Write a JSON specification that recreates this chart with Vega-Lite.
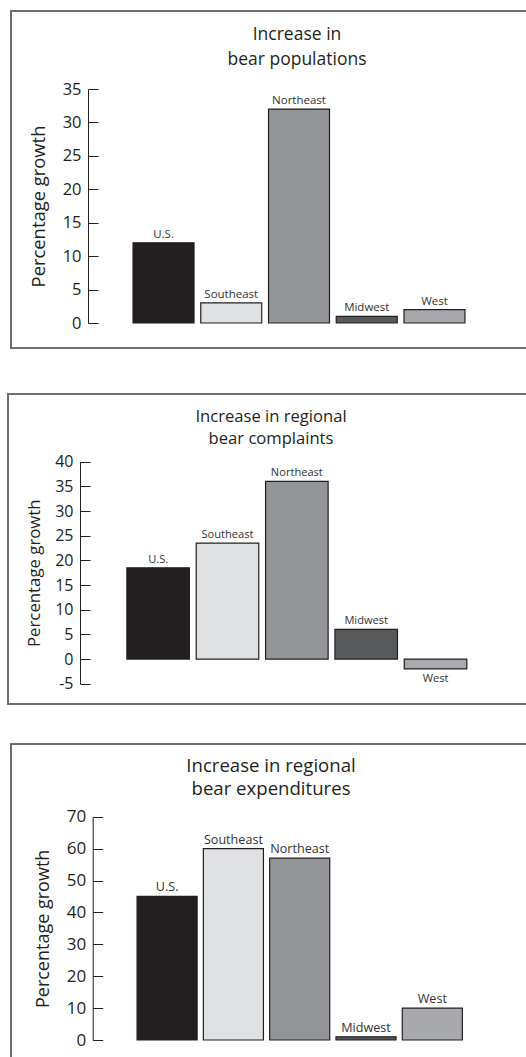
{
  "$schema": "https://vega.github.io/schema/vega-lite/v6.json",
  "padding": {"left": 7, "top": 10, "right": 0, "bottom": 0},
  "background": "white",
  "config": {
    "font": "Open Sans",
    "view": {"stroke": "#6d6e71", "strokeWidth": 2},
    "title": {"font": "Open Sans", "fontWeight": "normal", "color": "#231f20"},
    "axis": {
      "domainColor": "#231f20", "domainWidth": 1, "tickColor": "#231f20", "tickWidth": 1,
      "labelFont": "Open Sans", "labelColor": "#231f20", "titleFont": "Open Sans",
      "titleFontWeight": "normal", "titleColor": "#231f20", "grid": false
    },
    "text": {"font": "Open Sans", "color": "#333333"}
  },
  "vconcat": [
    {
      "width": 520, "height": 337,
      "title": {"text": ["Increase in", "bear populations"], "frame": "group", "anchor": "middle", "offset": -71, "baseline": "alphabetic", "fontSize": 17.5, "lineHeight": 25, "dx": 26},
      "data": {"values": [
        {"region": "U.S.", "value": 12},
        {"region": "Southeast", "value": 3},
        {"region": "Northeast", "value": 32},
        {"region": "Midwest", "value": 1},
        {"region": "West", "value": 2}
      ]},
      "encoding": {
        "x": {"field": "region", "type": "nominal", "sort": null, "axis": null,
              "scale": {"type": "band", "domain": ["U.S.", "Southeast", "Northeast", "Midwest", "West"], "range": [77, 499], "paddingInner": 0.1, "paddingOuter": 0.665}},
        "y": {"field": "value", "type": "quantitative",
              "scale": {"domain": [0, 35], "range": [312, 78], "nice": false},
              "axis": {"values": [0, 5, 10, 15, 20, 25, 30, 35], "offset": -77, "tickSize": -10, "labelPadding": 17, "labelFontSize": 16.5, "labelExpr": "'' + datum.value", "title": "Percentage growth", "titleFontSize": 18.4, "titlePadding": 14}}
      },
      "layer": [
        {"mark": {"type": "bar", "stroke": "#231f20", "strokeWidth": 1.2},
         "encoding": {"color": {"field": "region", "type": "nominal", "legend": null,
           "scale": {"domain": ["U.S.", "Southeast", "Northeast", "Midwest", "West"], "range": ["#231f20", "#e0e1e3", "#939598", "#58595b", "#a7a9ac"]}}}},
        {"transform": [{"filter": "datum.value >= 0"}],
         "mark": {"type": "text", "baseline": "alphabetic", "dy": -5, "fontSize": 11.5},
         "encoding": {"text": {"field": "region"}}},
        {"data": {"values": [{"level": 0}]},
         "mark": {"type": "rule", "color": "#58595b", "strokeWidth": 2},
         "encoding": {"x": {"datum": 0, "type": "quantitative", "scale": {"domain": [0, 1], "range": [77, 499]}, "axis": null},
                      "x2": {"datum": 1},
                      "y": {"field": "level", "type": "quantitative"}}},
        {"data": {"values": [{"level": 0}]},
         "mark": {"type": "tick", "orient": "vertical", "size": 6, "thickness": 1, "yOffset": -3, "color": "#231f20"},
         "encoding": {"x": {"datum": 1, "type": "quantitative", "scale": {"domain": [0, 1], "range": [77, 499]}, "axis": null},
                      "y": {"field": "level", "type": "quantitative"}}}
      ],
      "resolve": {"scale": {"x": "independent"}}
    },
    {
      "spacing": 38,
      "center": true,
      "vconcat": [
        {
          "width": 526, "height": 310,
          "title": {"text": ["Increase in regional", "bear complaints"], "frame": "group", "anchor": "middle", "offset": -67, "baseline": "alphabetic", "fontSize": 16.6, "lineHeight": 22},
          "data": {"values": [
            {"region": "U.S.", "value": 18.5},
            {"region": "Southeast", "value": 23.5},
            {"region": "Northeast", "value": 36},
            {"region": "Midwest", "value": 6},
            {"region": "West", "value": -2}
          ]},
          "encoding": {
            "x": {"field": "region", "type": "nominal", "sort": null, "axis": null,
                  "scale": {"type": "band", "domain": ["U.S.", "Southeast", "Northeast", "Midwest", "West"], "range": [72, 505.7], "paddingInner": 0.098, "paddingOuter": 0.676}},
            "y": {"field": "value", "type": "quantitative",
                  "scale": {"domain": [-5, 40], "range": [289.7, 67.7], "nice": false},
                  "axis": {"values": [-5, 0, 5, 10, 15, 20, 25, 30, 35, 40], "offset": -72, "tickSize": -10, "labelPadding": 17, "labelFontSize": 16, "labelExpr": "'' + datum.value", "title": "Percentage growth", "titleFontSize": 16.8, "titlePadding": 11}}
          },
          "layer": [
            {"mark": {"type": "bar", "stroke": "#231f20", "strokeWidth": 1.2},
             "encoding": {"color": {"field": "region", "type": "nominal", "legend": null,
               "scale": {"domain": ["U.S.", "Southeast", "Northeast", "Midwest", "West"], "range": ["#231f20", "#e0e1e3", "#939598", "#636466", "#a7a9ac"]}}}},
            {"transform": [{"filter": "datum.value >= 0"}],
             "mark": {"type": "text", "baseline": "alphabetic", "dy": -5, "fontSize": 11.1},
             "encoding": {"text": {"field": "region"}}},
            {"transform": [{"filter": "datum.value < 0"}],
             "mark": {"type": "text", "baseline": "alphabetic", "dy": 13, "fontSize": 11.1},
             "encoding": {"text": {"field": "region"}}},
            {"data": {"values": [{"level": 0}]},
             "mark": {"type": "rule", "color": "#231f20", "strokeWidth": 1.2},
             "encoding": {"x": {"datum": 0, "type": "quantitative", "scale": {"domain": [0, 1], "range": [72, 505.7]}, "axis": null},
                          "x2": {"datum": 1},
                          "y": {"field": "level", "type": "quantitative"}}},
            {"data": {"values": [{"level": 0}]},
             "mark": {"type": "tick", "orient": "vertical", "size": 6, "thickness": 1, "yOffset": -3, "color": "#231f20"},
             "encoding": {"x": {"datum": 1, "type": "quantitative", "scale": {"domain": [0, 1], "range": [72, 505.7]}, "axis": null},
                          "y": {"field": "level", "type": "quantitative"}}}
          ],
          "resolve": {"scale": {"x": "independent"}}
        },
        {
          "width": 520, "height": 320,
          "title": {"text": ["Increase in regional", "bear expenditures"], "frame": "group", "anchor": "middle", "offset": -70, "baseline": "alphabetic", "fontSize": 18.6, "lineHeight": 23},
          "data": {"values": [
            {"region": "U.S.", "value": 45},
            {"region": "Southeast", "value": 60},
            {"region": "Northeast", "value": 57},
            {"region": "Midwest", "value": 1},
            {"region": "West", "value": 10}
          ]},
          "encoding": {
            "x": {"field": "region", "type": "nominal", "sort": null, "axis": null,
                  "scale": {"type": "band", "domain": ["U.S.", "Southeast", "Northeast", "Midwest", "West"], "range": [81.7, 495.7], "paddingInner": 0.094, "paddingOuter": 0.669}},
            "y": {"field": "value", "type": "quantitative",
                  "scale": {"domain": [0, 70], "range": [296, 72.7], "nice": false},
                  "axis": {"values": [0, 10, 20, 30, 40, 50, 60, 70], "offset": -81.7, "tickSize": -10, "labelPadding": 17, "labelFontSize": 17, "labelExpr": "'' + datum.value", "title": "Percentage growth", "titleFontSize": 18, "titlePadding": 14}}
          },
          "layer": [
            {"mark": {"type": "bar", "stroke": "#231f20", "strokeWidth": 1.2},
             "encoding": {"color": {"field": "region", "type": "nominal", "legend": null,
               "scale": {"domain": ["U.S.", "Southeast", "Northeast", "Midwest", "West"], "range": ["#231f20", "#e0e1e3", "#939598", "#636466", "#a7a9ac"]}}}},
            {"transform": [{"filter": "datum.value >= 0"}],
             "mark": {"type": "text", "baseline": "alphabetic", "dy": -5, "fontSize": 12.6},
             "encoding": {"text": {"field": "region"}}},
            {"data": {"values": [{"level": 0}]},
             "mark": {"type": "rule", "color": "#231f20", "strokeWidth": 1.3},
             "encoding": {"x": {"datum": 0, "type": "quantitative", "scale": {"domain": [0, 1], "range": [81.7, 495.7]}, "axis": null},
                          "x2": {"datum": 1},
                          "y": {"field": "level", "type": "quantitative"}}},
            {"data": {"values": [{"level": 0}]},
             "mark": {"type": "tick", "orient": "vertical", "size": 6, "thickness": 1, "yOffset": -3, "color": "#231f20"},
             "encoding": {"x": {"datum": 1, "type": "quantitative", "scale": {"domain": [0, 1], "range": [81.7, 495.7]}, "axis": null},
                          "y": {"field": "level", "type": "quantitative"}}}
          ],
          "resolve": {"scale": {"x": "independent"}}
        }
      ]
    }
  ],
  "spacing": 44,
  "center": true
}
